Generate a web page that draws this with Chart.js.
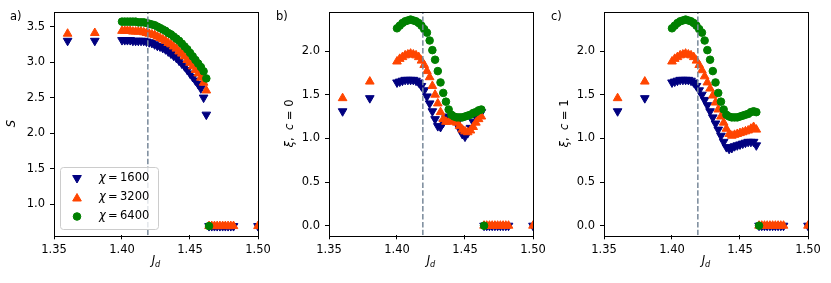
<!DOCTYPE html>
<html>
<head>
<meta charset="utf-8">
<script src="https://cdn.jsdelivr.net/npm/chart.js@4.4.1/dist/chart.umd.min.js"></script>
<style>
  body { margin: 0; background: #fff; }
  #wrap { position: relative; width: 831px; height: 283px; }
  .panel { position: absolute; top: 0; }
</style>
</head>
<body>
<div id="wrap">
  <canvas class="panel" id="chartA" width="270" height="283" style="left:0"></canvas>
  <canvas class="panel" id="chartB" width="275" height="283" style="left:270px"></canvas>
  <canvas class="panel" id="chartC" width="275" height="283" style="left:545px"></canvas>
</div>
<script>
// ── Data ──
const jdEarly = [1.36, 1.38];
const jdDense = [1.400, 1.402, 1.404, 1.406, 1.408, 1.410, 1.412, 1.414, 1.416, 1.418,
  1.420, 1.422, 1.424, 1.426, 1.428, 1.430, 1.432, 1.434, 1.436, 1.438,
  1.440, 1.442, 1.444, 1.446, 1.448, 1.450, 1.452, 1.454, 1.456, 1.458, 1.460, 1.462];
const jdZero = [1.464, 1.466, 1.468, 1.470, 1.472, 1.474, 1.476, 1.478, 1.480, 1.482, 1.500];
const jdZeroGreen = [1.464];
const vlineJd = 1.419;

// a) entropy S
const sEarly1600 = [3.30, 3.30];
const sEarly3200 = [3.40, 3.41];
const s1600 = [3.31, 3.31, 3.31, 3.31, 3.30, 3.30, 3.30, 3.30, 3.30, 3.29,
  3.28, 3.27, 3.25, 3.23, 3.22, 3.20, 3.18, 3.15, 3.12, 3.09,
  3.06, 3.02, 2.98, 2.94, 2.89, 2.84, 2.79, 2.74, 2.69, 2.63, 2.50, 2.26];
const s3200 = [3.44, 3.44, 3.44, 3.44, 3.43, 3.43, 3.43, 3.43, 3.42, 3.41,
  3.40, 3.39, 3.38, 3.36, 3.34, 3.32, 3.30, 3.27, 3.25, 3.22,
  3.19, 3.15, 3.12, 3.08, 3.03, 2.99, 2.94, 2.89, 2.84, 2.78, 2.71, 2.60];
const s6400 = [3.57, 3.57, 3.57, 3.57, 3.57, 3.57, 3.56, 3.56, 3.56, 3.55,
  3.54, 3.53, 3.52, 3.50, 3.48, 3.46, 3.44, 3.41, 3.39, 3.36,
  3.33, 3.30, 3.26, 3.22, 3.18, 3.13, 3.08, 3.03, 2.98, 2.93, 2.87, 2.77];
const sZero = [0.69, 0.69, 0.69, 0.69, 0.69, 0.69, 0.69, 0.69, 0.69, 0.69, 0.69];
const sZeroGreen = [0.69];

// b) xi, c = 0
const xiEarly1600 = [1.31, 1.46];
const xiEarly3200 = [1.46, 1.65];
const xi0_1600 = [1.64, 1.65, 1.66, 1.67, 1.67, 1.67, 1.67, 1.66, 1.64, 1.60,
  1.55, 1.48, 1.40, 1.31, 1.22, 1.14, 1.13, 1.18, 1.23, 1.25,
  1.25, 1.22, 1.17, 1.11, 1.05, 1.02, 1.06, 1.12, 1.19, 1.25, 1.29, 1.30];
const xi0_3200 = [1.88, 1.91, 1.93, 1.95, 1.96, 1.97, 1.96, 1.95, 1.93, 1.89,
  1.84, 1.77, 1.70, 1.60, 1.50, 1.40, 1.30, 1.22, 1.19, 1.19,
  1.20, 1.20, 1.18, 1.14, 1.10, 1.08, 1.07, 1.09, 1.13, 1.18, 1.22, 1.25];
const xi0_6400 = [2.26, 2.29, 2.32, 2.34, 2.35, 2.36, 2.35, 2.34, 2.32, 2.29,
  2.25, 2.21, 2.12, 2.01, 1.90, 1.77, 1.64, 1.52, 1.42, 1.33,
  1.27, 1.25, 1.24, 1.24, 1.24, 1.25, 1.26, 1.27, 1.29, 1.30, 1.32, 1.33];

// c) xi, c = 1
const xi1_1600 = [1.64, 1.65, 1.66, 1.67, 1.67, 1.67, 1.67, 1.66, 1.64, 1.60,
  1.55, 1.50, 1.44, 1.38, 1.31, 1.24, 1.17, 1.10, 1.03, 0.96,
  0.90, 0.88, 0.89, 0.91, 0.92, 0.93, 0.94, 0.95, 0.96, 0.96, 0.96, 0.92];
const xi1_3200 = [1.88, 1.91, 1.93, 1.95, 1.96, 1.97, 1.96, 1.95, 1.93, 1.89,
  1.84, 1.78, 1.71, 1.64, 1.57, 1.49, 1.41, 1.33, 1.25, 1.18,
  1.11, 1.05, 1.03, 1.04, 1.05, 1.06, 1.07, 1.08, 1.09, 1.11, 1.13, 1.10];
const xi1_6400 = [2.26, 2.29, 2.32, 2.34, 2.35, 2.36, 2.35, 2.34, 2.32, 2.29,
  2.25, 2.21, 2.12, 2.01, 1.90, 1.77, 1.64, 1.52, 1.42, 1.33,
  1.27, 1.25, 1.24, 1.24, 1.24, 1.25, 1.26, 1.27, 1.28, 1.30, 1.31, 1.30];
const xiZero = [0, 0, 0, 0, 0, 0, 0, 0, 0, 0, 0];
const xiZeroGreen = [0];

// axes
const jdRange = [1.35, 1.50];
const jdTicks = [1.35, 1.40, 1.45, 1.50];
const sRange = [0.56, 3.71];
const sTicks = [1.0, 1.5, 2.0, 2.5, 3.0, 3.5];
const xiRange = [-0.11, 2.45];
const xiTicks = [0.0, 0.5, 1.0, 1.5, 2.0];

const chiLabels = ["1600", "3200", "6400"];
const colors = { c1600: "#000080", c3200: "#ff4500", c6400: "#008000", vline: "#778899" };
const FONT = "'DejaVu Sans', sans-serif";
const FS = 11.5;

function pts(xs, ys) {
  return xs.map((x, i) => ({ x: x, y: ys[i] }));
}

function markers(xs, ys, color, style, rotation, radius, order) {
  return {
    data: pts(xs, ys),
    backgroundColor: color,
    borderColor: color,
    borderWidth: 1,
    pointStyle: style,
    rotation: rotation,
    pointRadius: radius,
    pointHoverRadius: radius,
    showLine: false,
    order: order,
  };
}

function buildDatasets(e1600, e3200, d1600, d3200, d6400, zero, zeroGreen, yRange) {
  return [
    {
      data: pts([vlineJd, vlineJd], yRange),
      showLine: true,
      borderColor: colors.vline,
      borderWidth: 1.5,
      borderDash: [5.5, 2.4],
      pointRadius: 0,
      order: 0,
    },
    markers(jdDense.concat(jdZeroGreen), d6400.concat(zeroGreen), colors.c6400, "circle", 0, 3.8, 1),
    markers(jdEarly.concat(jdDense, jdZero), e3200.concat(d3200, zero), colors.c3200, "triangle", 0, 5, 2),
    markers(jdEarly.concat(jdDense, jdZero), e1600.concat(d1600, zero), colors.c1600, "triangle", 180, 5, 3),
  ];
}

// draw "mathtext-like" runs: [text, italic]
function drawRuns(ctx, runs, x, y, size, align) {
  let total = 0;
  const widths = runs.map(([t, it]) => {
    ctx.font = (it ? "italic " : "") + size + "px " + FONT;
    const w = ctx.measureText(t).width;
    total += w;
    return w;
  });
  let cx = align === "center" ? x - total / 2 : x;
  runs.forEach(([t, it], i) => {
    ctx.font = (it ? "italic " : "") + size + "px " + FONT;
    ctx.fillText(t, cx, y);
    cx += widths[i];
  });
}

const decor = {
  id: "decor",
  afterDatasetsDraw(chart, args, opts) {
    const { ctx, chartArea: a } = chart;
    ctx.save();
    // frame
    ctx.strokeStyle = "#000";
    ctx.lineWidth = 1;
    ctx.strokeRect(Math.round(a.left) + 0.5, Math.round(a.top) + 0.5,
      Math.round(a.right - a.left), Math.round(a.bottom - a.top));

    ctx.fillStyle = "#000";
    ctx.textAlign = "left";
    // panel tag
    ctx.textBaseline = "alphabetic";
    ctx.font = FS + "px " + FONT;
    ctx.fillText(opts.tag, opts.tagX, 20);

    // x title J_d
    const cx = (a.left + a.right) / 2;
    ctx.font = "italic " + FS + "px " + FONT;
    const wJ = ctx.measureText("J").width;
    ctx.font = "italic 8.2px " + FONT;
    const wd = ctx.measureText("d").width;
    const x0 = cx - (wJ + wd) / 2;
    ctx.font = "italic " + FS + "px " + FONT;
    ctx.fillText("J", x0, 264);
    ctx.font = "italic 8.2px " + FONT;
    ctx.fillText("d", x0 + wJ, 266.5);

    // y title
    ctx.save();
    ctx.translate(opts.yTitleX, (a.top + a.bottom) / 2);
    ctx.rotate(-Math.PI / 2);
    ctx.textBaseline = "middle";
    drawRuns(ctx, opts.yTitle, 0, 0, FS, "center");
    ctx.restore();

    // legend
    if (opts.legend) {
      const lx = 60.5, ly = 167.5, lw = 98, lh = 62;
      ctx.fillStyle = "rgba(255,255,255,0.8)";
      ctx.strokeStyle = "#cccccc";
      ctx.lineWidth = 1;
      ctx.beginPath();
      ctx.roundRect(lx, ly, lw, lh, 3);
      ctx.fill();
      ctx.stroke();
      const rows = [
        { color: colors.c1600, style: "triangle", rot: 180, r: 5 },
        { color: colors.c3200, style: "triangle", rot: 0, r: 5 },
        { color: colors.c6400, style: "circle", rot: 0, r: 3.8 },
      ];
      const rowY = [178.5, 197.5, 216.5];
      rows.forEach((row, i) => {
        ctx.fillStyle = row.color;
        ctx.strokeStyle = row.color;
        Chart.helpers.drawPoint(ctx, {
          pointStyle: row.style, rotation: row.rot, radius: row.r, borderWidth: 1,
        }, 77, rowY[i] + (row.style === "triangle" ? (row.rot ? -0.5 : 1) : 0));
        ctx.fillStyle = "#000";
        ctx.textBaseline = "middle";
        drawRuns(ctx, [["χ", true], ["\u2009=\u2009" + chiLabels[i], false]], 99, rowY[i], FS, "left");
      });
    }
    ctx.restore();
  },
};

function buildChart(id, datasets, yRange, yTicks, yWidth, decorOpts) {
  const tickFont = { family: FONT, size: FS };
  return new Chart(document.getElementById(id), {
    type: "scatter",
    data: { datasets: datasets },
    plugins: [decor],
    options: {
      responsive: false,
      animation: false,
      events: [],
      layout: { padding: { top: 11.7, right: 12, left: 0, bottom: 0 } },
      plugins: { legend: { display: false }, tooltip: { enabled: false }, decor: decorOpts },
      scales: {
        x: {
          type: "linear",
          min: jdRange[0],
          max: jdRange[1],
          afterFit: (s) => { s.height = 47.7; s.paddingLeft = 0; s.paddingRight = 0; },
          afterBuildTicks: (s) => { s.ticks = jdTicks.map((v) => ({ value: v })); },
          grid: { drawOnChartArea: false, drawTicks: true, tickLength: 4, color: "#000", tickWidth: 1 },
          border: { display: false },
          ticks: { font: tickFont, color: "#000", padding: 4, maxRotation: 0, callback: (v) => v.toFixed(2) },
        },
        y: {
          type: "linear",
          min: yRange[0],
          max: yRange[1],
          afterFit: (s) => { s.width = yWidth; s.paddingTop = 0; s.paddingBottom = 0; },
          afterBuildTicks: (s) => { s.ticks = yTicks.map((v) => ({ value: v })); },
          grid: { drawOnChartArea: false, drawTicks: true, tickLength: 4, color: "#000", tickWidth: 1 },
          border: { display: false },
          ticks: { font: tickFont, color: "#000", padding: 5, callback: (v) => v.toFixed(1) },
        },
      },
    },
  });
}

buildChart("chartA",
  buildDatasets(sEarly1600, sEarly3200, s1600, s3200, s6400, sZero, sZeroGreen, sRange),
  sRange, sTicks, 54,
  { tag: "a)", tagX: 10, yTitleX: 12, yTitle: [["S", true]], legend: true });

buildChart("chartB",
  buildDatasets(xiEarly1600, xiEarly3200, xi0_1600, xi0_3200, xi0_6400, xiZero, xiZeroGreen, xiRange),
  xiRange, xiTicks, 59,
  { tag: "b)", tagX: 6, yTitleX: 20, yTitle: [["ξ", true], [",  ", false], ["c", true], [" = 0", false]], legend: false });

buildChart("chartC",
  buildDatasets(xiEarly1600, xiEarly3200, xi1_1600, xi1_3200, xi1_6400, xiZero, xiZeroGreen, xiRange),
  xiRange, xiTicks, 59,
  { tag: "c)", tagX: 6, yTitleX: 20, yTitle: [["ξ", true], [",  ", false], ["c", true], [" = 1", false]], legend: false });
</script>
</body>
</html>
